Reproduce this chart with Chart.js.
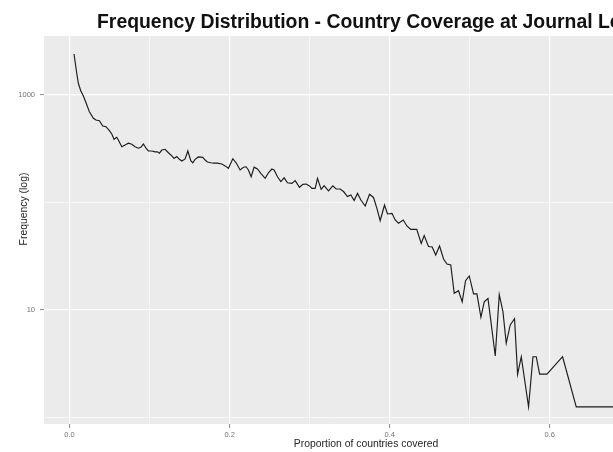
<!DOCTYPE html>
<html>
<head>
<meta charset="utf-8">
<script src="https://cdn.jsdelivr.net/npm/chart.js@4.4.1/dist/chart.umd.min.js"></script>
<style>
  html, body { margin: 0; padding: 0; background: #ffffff; }
  canvas { display: block; }
</style>
</head>
<body>
<canvas id="chart" width="613" height="452"></canvas>
<script>
// Share of countries covered by a journal (x) and how many journals have it (y)
const coverage = [
  0.0056, 0.0090, 0.0110, 0.0140, 0.0173, 0.0206, 0.0248, 0.0298, 0.0331, 0.0373,
  0.0415, 0.0456, 0.0498, 0.0528, 0.0556, 0.0590, 0.0610, 0.0653, 0.0694, 0.0735,
  0.0778, 0.0819, 0.0860, 0.0890, 0.0923, 0.0956, 0.0985, 0.1028, 0.1069, 0.1098,
  0.1123, 0.1153, 0.1194, 0.1235, 0.1278, 0.1306, 0.1340, 0.1373, 0.1403, 0.1444,
  0.1478, 0.1515, 0.1540, 0.1569, 0.1610, 0.1665, 0.1694, 0.1723, 0.1765, 0.1806,
  0.1848, 0.1903, 0.1944, 0.1985, 0.2040, 0.2081, 0.2131, 0.2173, 0.2206, 0.2235,
  0.2269, 0.2306, 0.2348, 0.2390, 0.2444, 0.2485, 0.2528, 0.2556, 0.2598, 0.2640,
  0.2681, 0.2723, 0.2778, 0.2819, 0.2873, 0.2915, 0.2956, 0.2998, 0.3028, 0.3069,
  0.3098, 0.3144, 0.3181, 0.3235, 0.3290, 0.3331, 0.3381, 0.3423, 0.3473, 0.3515,
  0.3556, 0.3598, 0.3640, 0.3694, 0.3748, 0.3798, 0.3840, 0.3881, 0.3935, 0.3973,
  0.4028, 0.4069, 0.4110, 0.4169, 0.4215, 0.4263, 0.4338, 0.4394, 0.4431, 0.4485,
  0.4531, 0.4575, 0.4623, 0.4673, 0.4715, 0.4763, 0.4806, 0.4860, 0.4906, 0.4948,
  0.4994, 0.5048, 0.5090, 0.5140, 0.5181, 0.5228, 0.5319, 0.5369, 0.5415, 0.5456,
  0.5506, 0.5560, 0.5598, 0.5644, 0.5735, 0.5790, 0.5831, 0.5873, 0.5965, 0.6160,
  0.6331, 0.8000
];
const frequency = [
  2388, 1581, 1276, 1089, 973, 843, 695, 604, 582, 573,
  512, 504, 463, 431, 385, 402, 379, 329, 341, 354,
  346, 329, 318, 324, 348, 318, 300, 300, 294, 295,
  286, 306, 311, 289, 270, 256, 266, 251, 242, 253,
  300, 244, 233, 251, 264, 262, 247, 237, 233, 231,
  231, 227, 218, 207, 254, 233, 200, 212, 214, 200,
  173, 212, 204, 186, 167, 188, 204, 200, 173, 156,
  169, 152, 150, 159, 138, 147, 148, 142, 135, 135,
  167, 132, 143, 128, 142, 133, 133, 126, 113, 117,
  104, 121, 105, 92.5, 119, 111, 88, 67.5, 94.5, 78,
  79, 68.5, 64, 68.5, 60.3, 56, 56, 41.5, 49.2, 38.9,
  38.5, 32.4, 39.3, 29.8, 26.7, 26.2, 14.3, 15.1, 11.9, 18.7,
  20.7, 14.1, 14.1, 8.55, 11.9, 12.8, 3.74, 13.9, 9.64, 4.91,
  7.26, 8.3, 2.53, 3.68, 1.26, 3.68, 3.68, 2.54, 2.54, 3.68,
  1.26, 1.26
];

const xMajorTicks = [0, 0.2, 0.4, 0.6];
const xMinorTicks = [0.1, 0.3, 0.5];
const yMajorTicks = [10, 1000];
const yMinorTicks = [1, 100];

const chartTitle = 'Frequency Distribution - Country Coverage at Journal Level';
const xAxisTitle = 'Proportion of countries covered';
const yAxisTitle = 'Frequency (log)';

const FONT = "'Liberation Sans', Arial, sans-serif";
const PANEL_BG = '#ebebeb';
const TICK_TEXT = '#737373';
const TICK_MARK = '#8a8a8a';

function tickList(major, minor) {
  return major.map(v => ({ value: v, main: true }))
    .concat(minor.map(v => ({ value: v, main: false })))
    .sort((a, b) => a.value - b.value);
}

const gridStyle = {
  color: '#ffffff',
  lineWidth: ctx => (ctx.tick && ctx.tick.main ? 1.2 : 0.55),
  drawTicks: true,
  tickLength: 4,
  tickWidth: 1,
  tickColor: ctx => (ctx.tick && ctx.tick.main ? TICK_MARK : 'rgba(0,0,0,0)')
};

// grey panel behind the grid, titles around it
const panelPlugin = {
  id: 'panel',
  beforeDraw(chart) {
    const { ctx, chartArea: a } = chart;
    ctx.save();
    ctx.fillStyle = PANEL_BG;
    ctx.fillRect(a.left, a.top, a.right - a.left, a.bottom - a.top);
    ctx.restore();
  },
  afterDraw(chart) {
    const { ctx } = chart;
    ctx.save();
    ctx.fillStyle = '#111111';
    ctx.font = 'bold 19.4px ' + FONT;
    ctx.textAlign = 'left';
    ctx.textBaseline = 'alphabetic';
    ctx.fillText(chartTitle, 97, 27.5);

    ctx.fillStyle = '#262626';
    ctx.font = '10.4px ' + FONT;
    ctx.textAlign = 'center';
    ctx.fillText(xAxisTitle, 366, 446.5);

    ctx.translate(27, 209);
    ctx.rotate(-Math.PI / 2);
    ctx.textBaseline = 'alphabetic';
    ctx.fillText(yAxisTitle, 0, 0);
    ctx.restore();
  }
};

new Chart(document.getElementById('chart'), {
  type: 'line',
  data: {
    datasets: [{
      data: coverage.map((x, i) => ({ x: x, y: frequency[i] })),
      borderColor: '#1c1c1c',
      borderWidth: 1.15,
      pointRadius: 0,
      tension: 0,
      fill: false
    }]
  },
  options: {
    responsive: false,
    animation: false,
    events: [],
    layout: { padding: { top: 36, right: 0, bottom: 0, left: 0 } },
    plugins: {
      legend: { display: false },
      tooltip: { enabled: false },
      title: { display: false }
    },
    scales: {
      x: {
        type: 'linear',
        bounds: 'data',
        min: -0.0319,
        max: 0.679,
        border: { display: false },
        grid: gridStyle,
        afterBuildTicks: s => { s.ticks = tickList(xMajorTicks, xMinorTicks); },
        afterFit: s => { s.height = 28; },
        ticks: {
          autoSkip: false,
          maxRotation: 0,
          padding: 2,
          color: TICK_TEXT,
          font: { family: FONT, size: 7.5 },
          callback: v => (xMajorTicks.includes(v) ? v.toFixed(1) : '')
        }
      },
      y: {
        type: 'logarithmic',
        bounds: 'data',
        min: 0.873,
        max: 3508,
        border: { display: false },
        grid: gridStyle,
        afterBuildTicks: s => { s.ticks = tickList(yMajorTicks, yMinorTicks); },
        afterFit: s => { s.width = 44; },
        ticks: {
          autoSkip: false,
          padding: 5,
          color: TICK_TEXT,
          font: { family: FONT, size: 7.5 },
          callback: v => (yMajorTicks.includes(v) ? String(v) : '')
        }
      }
    }
  },
  plugins: [panelPlugin]
});
</script>
</body>
</html>
